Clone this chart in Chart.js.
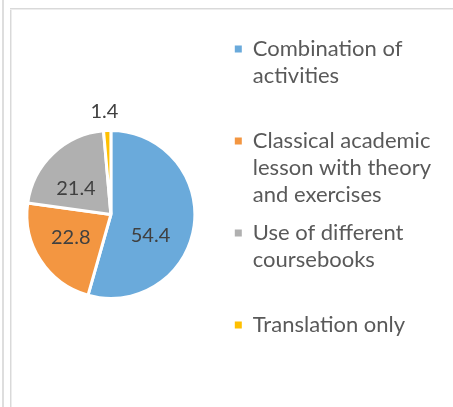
<!DOCTYPE html>
<html>
<head>
<meta charset="utf-8">
<script src="https://cdn.jsdelivr.net/npm/chart.js@4"></script>
<style>
  html, body { margin: 0; padding: 0; background: #fff; overflow: hidden; }
  #page { position: relative; width: 453px; height: 407px; overflow: hidden; }
  .edge { position: absolute; }
  #outer { left: 2px; top: 0; width: 2px; height: 407px; background: #dedede; }
  #frameV { left: 10px; top: 8px; width: 1px; height: 399px; background: #d9d9d9; border-right: 1px solid #ededed; }
  #frameH { left: 10px; top: 8px; width: 443px; height: 1px; background: #d9d9d9; border-bottom: 1px solid #ededed; }
  #wrap { position: absolute; left: -2px; top: 0; width: 455px; height: 407px; }
</style>
</head>
<body>
<div id="page">
  <div class="edge" id="outer"></div>
  <div class="edge" id="frameV"></div>
  <div class="edge" id="frameH"></div>
  <div id="wrap"><canvas id="teachingPie"></canvas></div>
</div>
<script>
// legend labels, already broken into lines as in the original
const categories = [
    ['Combination of', 'activities'],
    ['Classical academic', 'lesson with theory', 'and exercises'],
    ['Use of different', 'coursebooks'],
    ['Translation only']
];
const shares = [54.4, 22.8, 21.4, 1.4];
const sliceColors = ['#6aaadb', '#f39641', '#b0b0b0', '#ffc000'];

// small pixel nudges so the value labels sit where the original put them
const labelShift = [[-2, 15], [-5, 0], [-6, 4], [-2, 0]];

const slotLines = 3;

const valueLabels = {
    id: 'valueLabels',
    afterDatasetsDraw(chart) {
        const ctx = chart.ctx;
        const meta = chart.getDatasetMeta(0);
        ctx.save();
        ctx.font = '20px Lato';
        ctx.fillStyle = '#404040';
        ctx.textAlign = 'center';
        ctx.textBaseline = 'middle';
        meta.data.forEach((arc, i) => {
            const p = arc.getProps(['x', 'y', 'startAngle', 'endAngle', 'outerRadius'], true);
            const mid = (p.startAngle + p.endAngle) / 2;
            const small = shares[i] < 5;
            const r = small ? p.outerRadius + 19 : p.outerRadius / 2;
            const x = p.x + Math.cos(mid) * r + labelShift[i][0];
            const y = p.y + Math.sin(mid) * r + labelShift[i][1];
            ctx.fillText(shares[i].toFixed(1), x, y);
        });
        ctx.restore();
    }
};

new Chart(document.getElementById('teachingPie'), {
    type: 'pie',
    data: {
        labels: categories,
        datasets: [{
            data: shares,
            backgroundColor: sliceColors,
            borderColor: '#ffffff',
            borderWidth: 3,
            radius: 84
        }]
    },
    options: {
        responsive: true,
        maintainAspectRatio: false,
        animation: false,
        layout: { padding: { left: 0, right: 12, top: 27, bottom: 5 } },
        plugins: {
            tooltip: { enabled: false },
            legend: {
                position: 'right',
                align: 'start',
                labels: {
                    boxWidth: 7,
                    boxHeight: 7,
                    padding: 11,
                    color: '#595959',
                    font: { family: 'Lato', size: 22, lineHeight: '27px' },
                    generateLabels(chart) {
                        const last = categories.length - 1;
                        return categories.map((lines, i) => {
                            const text = lines.slice();
                            while (i < last && text.length < slotLines) text.push('');
                            return {
                                text: text,
                                fillStyle: sliceColors[i],
                                strokeStyle: sliceColors[i],
                                lineWidth: 0,
                                fontColor: '#595959',
                                hidden: false,
                                index: i
                            };
                        });
                    }
                }
            }
        }
    },
    plugins: [valueLabels]
});
</script>
</body>
</html>
